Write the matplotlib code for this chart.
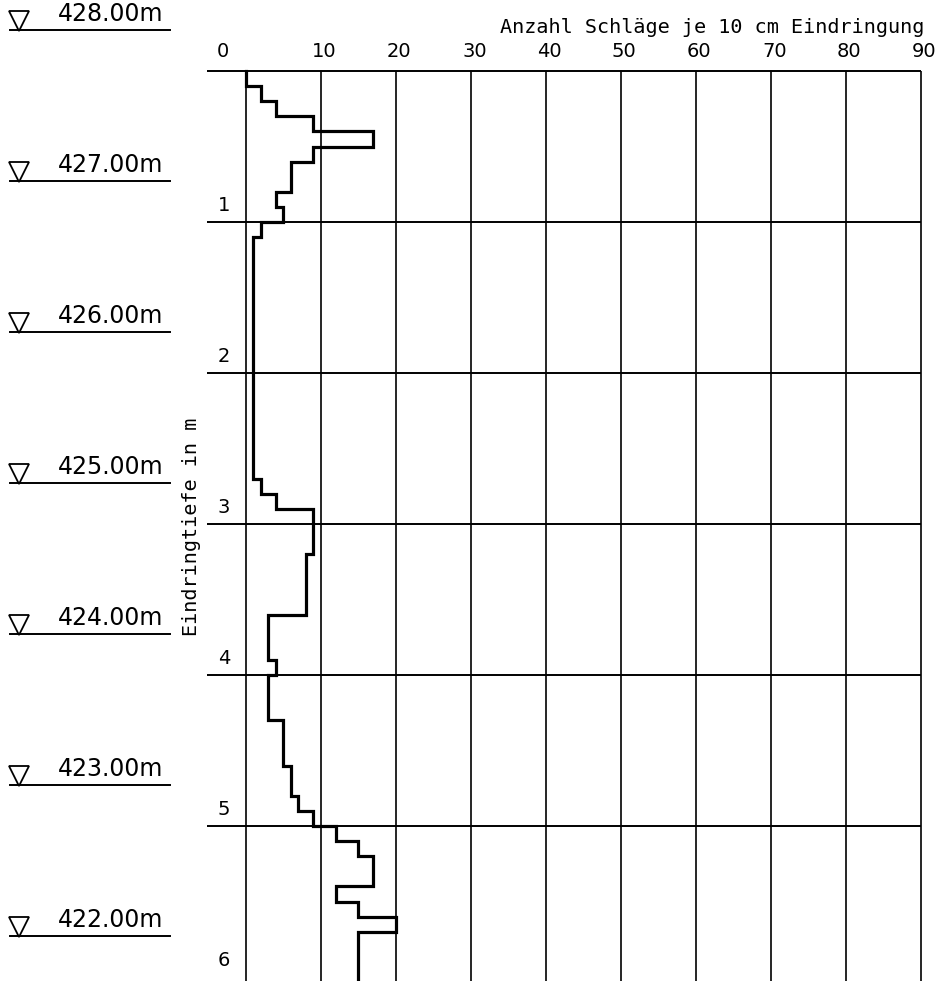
import numpy as np
import matplotlib
matplotlib.use("Agg")
import matplotlib.pyplot as plt

# Schlagzahlen je 10 cm, beginnend bei 0.0 m Tiefe
depth_start = np.round(np.arange(0.0, 6.05, 0.1), 1)
blows = [0, 2, 4, 9, 17, 9, 6, 6, 4, 5,
         2, 1, 1, 1, 1, 1, 1, 1, 1, 1,
         1, 1, 1, 1, 1, 1, 1, 2, 4, 9,
         9, 9, 8, 8, 8, 8, 3, 3, 3, 4,
         3, 3, 3, 5, 5, 5, 6, 6, 7, 9,
         12, 15, 17, 17, 12, 15, 20, 15, 15, 15,
         15]

x_ticks = [10, 20, 30, 40, 50, 60, 70, 80, 90]
depth_ticks = [1, 2, 3, 4, 5, 6]
elevations = [428, 427, 426, 425, 424, 423, 422]
top_elev = 428.0
elev_offset = -0.27

fig = plt.figure(figsize=(9.43, 9.81), dpi=100)
ax = fig.add_axes([0, 0, 1, 1])
ax.set_xlim(-246 / 7.5, (943 - 246) / 7.5)
ax.set_ylim((981 - 71) / 151.0, -71 / 151.0)
ax.axis("off")

# Raster
ax.hlines([0] + depth_ticks[:-1], -5.2, 90, color="black", lw=1.4)
ax.vlines([0] + x_ticks, 0, 6.2, color="black", lw=1.2)

# Sondierkurve
d = np.array(depth_start)
ys = np.column_stack([d, d + 0.1]).ravel()
xs = np.repeat(blows, 2)
ax.plot(xs, ys, color="black", lw=2.3, solid_joinstyle="miter")

num_font = dict(family="DejaVu Sans", fontsize=14, color="black")
mono_font = dict(family="DejaVu Sans Mono", fontsize=14.5, color="black")

for v in x_ticks:
    ax.text(v + 2.1, -0.13, str(v), ha="right", va="center", **num_font)
ax.text(-2.3, -0.13, "0", ha="right", va="center", **num_font)
for dt in depth_ticks:
    ax.text(-2.1, dt - 0.045, str(dt), ha="right", va="bottom", **num_font)

ax.text(90.5, -0.29, "Anzahl Schläge je 10 cm Eindringung",
        ha="right", va="center", **mono_font)
ax.text(-7.3, 3.02, "Eindringtiefe in m", rotation=90,
        ha="center", va="center", **mono_font)

# Höhenkoten
for e in elevations:
    y = (top_elev - e) + elev_offset
    ax.plot([-31.5, -10.1], [y, y], color="black", lw=1.4)
    ax.plot([-30.2], [y - 0.062], marker="v", ms=14, mfc="none",
            mec="black", mew=1.3)
    ax.text(-25.1, y - 0.03, "%.2fm" % e, ha="left", va="bottom",
            family="DejaVu Sans", fontsize=17, color="black")

fig.savefig("out.png", dpi=100, facecolor="white")
